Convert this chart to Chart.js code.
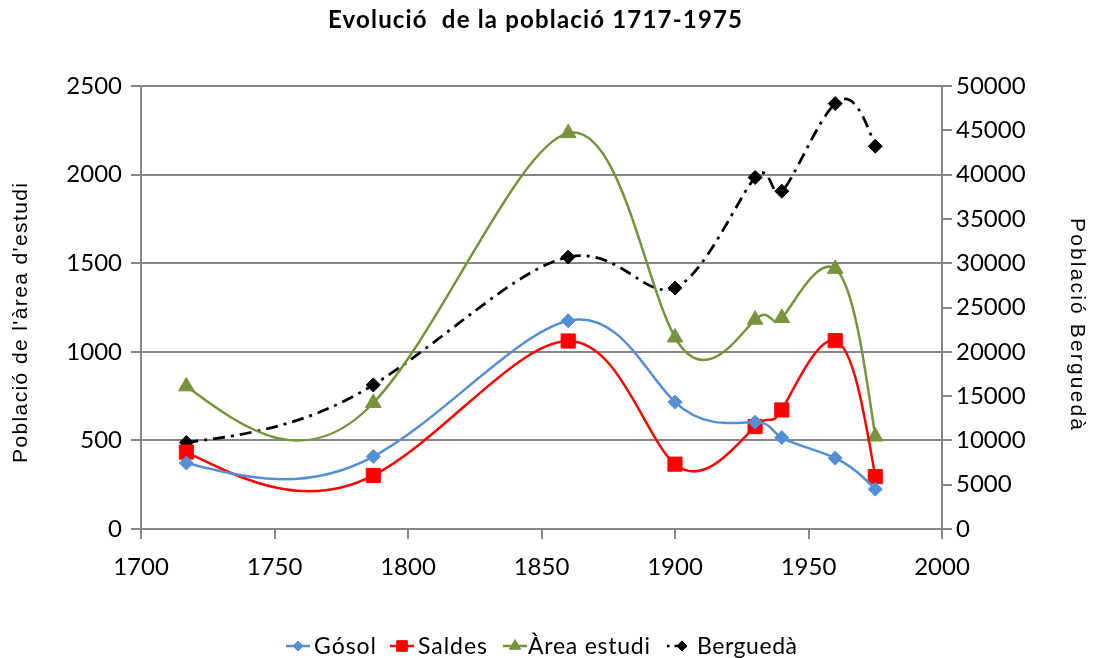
<!DOCTYPE html>
<html><head><meta charset="utf-8">
<script src="https://cdn.jsdelivr.net/npm/chart.js@4.4.1/dist/chart.umd.min.js"></script>
<style>html,body{margin:0;padding:0;background:#fff;}#wrap{width:1094px;height:658px;}</style>
</head><body><div id="wrap"><canvas id="c" width="1094" height="658"></canvas></div>
<script>
// ---- data ----
const years = [1717, 1787, 1860, 1900, 1930, 1940, 1960, 1975];
const gosol = [372, 409, 1175, 716, 603, 516, 400, 225];
const saldes = [434, 302, 1061, 366, 578, 672, 1063, 296];
const areaEstudi = [805, 711, 2234, 1081, 1181, 1191, 1468, 522];
const bergueda = [9761, 16265, 30692, 27198, 39675, 38131, 48016, 43203];
const xTicks = [1700, 1750, 1800, 1850, 1900, 1950, 2000];
const leftTicks = [0, 500, 1000, 1500, 2000, 2500];
const rightTicks = [0, 5000, 10000, 15000, 20000, 25000, 30000, 35000, 40000, 45000, 50000];
const seriesNames = ['Gósol', 'Saldes', 'Àrea estudi', 'Berguedà'];
const titleText = 'Evolució  de la població 1717-1975';
const leftTitle = "Població de l'àrea d'estudi";
const rightTitle = 'Població Berguedà';

const toXY = vals => years.map((y, i) => ({x: y, y: vals[i]}));
const GRID = '#868686';

function drawMarker(ctx, style, x, y, r, color) {
  ctx.save();
  ctx.fillStyle = color; ctx.strokeStyle = color; ctx.lineWidth = 1; ctx.setLineDash([]);
  ctx.beginPath();
  if (style === 'rectRot') { ctx.moveTo(x - r, y); ctx.lineTo(x, y - r); ctx.lineTo(x + r, y); ctx.lineTo(x, y + r); ctx.closePath(); }
  else if (style === 'rect') { const s = r * Math.SQRT1_2; ctx.rect(x - s, y - s, 2 * s, 2 * s); }
  else if (style === 'triangle') { ctx.moveTo(x, y - r); ctx.lineTo(x + r * 0.866, y + r / 2); ctx.lineTo(x - r * 0.866, y + r / 2); ctx.closePath(); }
  ctx.fill(); ctx.stroke();
  ctx.restore();
}

// natural cubic spline derivatives at knots T for values V
function naturalSlopes(T, V) {
  const n = T.length;
  const h = [];
  for (let i = 0; i < n - 1; i++) h.push(T[i + 1] - T[i]);
  const m = n - 2;
  const a = [], b = [], c = [], r = [];
  for (let k = 0; k < m; k++) {
    const i = k + 1;
    a[k] = h[i - 1]; b[k] = 2 * (h[i - 1] + h[i]); c[k] = h[i];
    r[k] = 6 * ((V[i + 1] - V[i]) / h[i] - (V[i] - V[i - 1]) / h[i - 1]);
  }
  for (let k = 1; k < m; k++) {
    const w = a[k] / b[k - 1];
    b[k] -= w * c[k - 1];
    r[k] -= w * r[k - 1];
  }
  const Mi = new Array(m).fill(0);
  if (m > 0) {
    Mi[m - 1] = r[m - 1] / b[m - 1];
    for (let k = m - 2; k >= 0; k--) Mi[k] = (r[k] - c[k] * Mi[k + 1]) / b[k];
  }
  const M = [0, ...Mi, 0];
  const s = new Array(n);
  for (let i = 0; i < n - 1; i++) s[i] = (V[i + 1] - V[i]) / h[i] - h[i] * (2 * M[i] + M[i + 1]) / 6;
  s[n - 1] = (V[n - 1] - V[n - 2]) / h[n - 2] + h[n - 2] * (M[n - 2] + 2 * M[n - 1]) / 6;
  return {s, h};
}

// Parametric natural cubic spline (uniform parameter), written as Bezier control points of the line element
const splineSmooth = {
  id: 'splineSmooth',
  beforeDatasetDraw(chart, args) {
    const meta = args.meta;
    const pts = meta.data;
    const n = pts.length;
    if (n < 3) return;
    const X = pts.map(p => p.x), Y = pts.map(p => p.y);
    const T = X.map((_, i) => i);
    const sx = naturalSlopes(T, X), sy = naturalSlopes(T, Y);
    const h = sx.h;
    for (let i = 0; i < n; i++) {
      const p = pts[i];
      const hl = i > 0 ? h[i - 1] / 3 : 0;
      const hr = i < n - 1 ? h[i] / 3 : 0;
      p.cp1x = X[i] - hl * sx.s[i]; p.cp1y = Y[i] - hl * sy.s[i];
      p.cp2x = X[i] + hr * sx.s[i]; p.cp2y = Y[i] + hr * sy.s[i];
    }
    meta.dataset._pointsUpdated = true;
  }
};

function fitSpacing(ctx, text, target) {
  ctx.letterSpacing = '0px';
  const w = ctx.measureText(text).width;
  const sp = Math.max(-1.5, Math.min(5, (target - w) / Math.max(1, text.length - 1)));
  ctx.letterSpacing = sp + 'px';
}

const decor = {
  id: 'decor',
  afterDraw(chart) {
    const ctx = chart.ctx;
    ctx.save();
    ctx.fillStyle = '#000';
    ctx.font = 'bold 24px Lato';
    fitSpacing(ctx, titleText, 414);
    ctx.textAlign = 'left'; ctx.textBaseline = 'alphabetic';
    ctx.fillText(titleText, 328, 28);
    ctx.font = '21px "Liberation Sans"';
    fitSpacing(ctx, leftTitle, 280);
    ctx.save();
    ctx.translate(27, 463); ctx.rotate(-Math.PI / 2);
    ctx.textAlign = 'left'; ctx.fillText(leftTitle, 0, 0);
    ctx.restore();
    fitSpacing(ctx, rightTitle, 212);
    ctx.save();
    ctx.translate(1071, 218); ctx.rotate(Math.PI / 2);
    ctx.textAlign = 'left'; ctx.fillText(rightTitle, 0, 0);
    ctx.restore();
    const ly = 646;
    const items = [
      {line: 286, text: 314, w: 62},
      {line: 390, text: 418, w: 69},
      {line: 503, text: 528, w: 122},
      {line: 667, text: 697, w: 100}
    ];
    ctx.font = '23px Lato';
    ctx.textBaseline = 'middle';
    chart.data.datasets.forEach((ds, i) => {
      const it = items[i];
      ctx.save();
      ctx.strokeStyle = ds.borderColor; ctx.lineWidth = 2.5;
      if (ds.borderDash) { ctx.setLineDash([2.5, 5, 12, 5]); }
      ctx.beginPath(); ctx.moveTo(it.line, ly); ctx.lineTo(it.line + 24, ly); ctx.stroke();
      ctx.restore();
      drawMarker(ctx, ds.pointStyle, it.line + 12 + (ds.borderDash ? 3 : 0), ly, ds.legendR, ds.pointBackgroundColor);
      ctx.fillStyle = '#000';
      fitSpacing(ctx, seriesNames[i], it.w);
      ctx.textAlign = 'left';
      ctx.fillText(seriesNames[i], it.text, ly + 1);
    });
    ctx.restore();
  }
};

const tickFont = {family: 'Lato', size: 24};
const plain = v => String(v);

new Chart(document.getElementById('c'), {
  type: 'line',
  data: {
    datasets: [
      {label: seriesNames[0], data: toXY(gosol), yAxisID: 'y', borderColor: '#558ED5', backgroundColor: '#558ED5',
       pointBackgroundColor: '#558ED5', pointBorderColor: '#558ED5', pointStyle: 'rectRot', pointRadius: 7, legendR: 5,
       borderWidth: 2.5, tension: 0.4, fill: false},
      {label: seriesNames[1], data: toXY(saldes), yAxisID: 'y', borderColor: '#FF0000', backgroundColor: '#FF0000',
       pointBackgroundColor: '#FF0000', pointBorderColor: '#FF0000', pointStyle: 'rect', pointRadius: 10, legendR: 7.5,
       borderWidth: 2.5, tension: 0.4, fill: false},
      {label: seriesNames[2], data: toXY(areaEstudi), yAxisID: 'y', borderColor: '#77933C', backgroundColor: '#77933C',
       pointBackgroundColor: '#77933C', pointBorderColor: '#77933C', pointStyle: 'triangle', pointRadius: 9, legendR: 6.5,
       borderWidth: 2.5, tension: 0.4, fill: false},
      {label: seriesNames[3], data: toXY(bergueda), yAxisID: 'y1', borderColor: '#000000', backgroundColor: '#000000',
       pointBackgroundColor: '#000000', pointBorderColor: '#000000', pointStyle: 'rectRot', pointRadius: 7, legendR: 5,
       borderWidth: 2.75, borderDash: [12, 6, 3, 6], tension: 0.4, fill: false}
    ]
  },
  options: {
    responsive: false,
    animation: false,
    events: [],
    layout: {padding: {top: 86, left: 0, right: 0, bottom: 69}},
    plugins: {legend: {display: false}, title: {display: false}, tooltip: {enabled: false}},
    elements: {point: {pointBorderWidth: 1}},
    scales: {
      x: {
        type: 'linear', min: 1700, max: 2000,
        afterBuildTicks: s => { s.ticks = xTicks.map(v => ({value: v})); },
        afterFit: s => { s.height = 60; },
        grid: {drawOnChartArea: false, drawTicks: true, tickLength: 10, color: GRID, lineWidth: 2},
        border: {color: GRID, width: 2},
        ticks: {font: tickFont, color: '#000', padding: 14, maxRotation: 0, autoSkip: false, callback: plain}
      },
      y: {
        type: 'linear', position: 'left', min: 0, max: 2500,
        afterBuildTicks: s => { s.ticks = leftTicks.map(v => ({value: v})); },
        afterFit: s => { s.width = 141; },
        grid: {color: GRID, lineWidth: 2, tickLength: 10},
        border: {color: GRID, width: 2},
        ticks: {font: tickFont, color: '#000', padding: 9, callback: plain}
      },
      y1: {
        type: 'linear', position: 'right', min: 0, max: 50000,
        afterBuildTicks: s => { s.ticks = rightTicks.map(v => ({value: v})); },
        afterFit: s => { s.width = 152; },
        grid: {drawOnChartArea: false, color: GRID, lineWidth: 2, tickLength: 10},
        border: {color: GRID, width: 2},
        ticks: {font: tickFont, color: '#000', padding: 4, callback: plain}
      }
    }
  },
  plugins: [splineSmooth, decor]
});
</script>
</body></html>
